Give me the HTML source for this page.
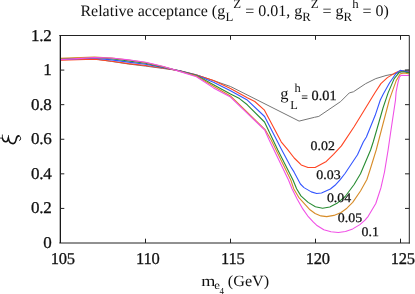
<!DOCTYPE html>
<html><head><meta charset="utf-8"><title>chart</title>
<style>html,body{margin:0;padding:0;background:#fff;overflow:hidden}text{text-rendering:geometricPrecision}.t{filter:grayscale(1)}</style></head>
<body>
<svg width="415" height="294" viewBox="0 0 415 294" style="display:block">
<rect width="415" height="294" fill="#fff"/>
<polyline points="60.0,59.7 94.5,58.9 111.5,61.4 128.5,64.0 145.5,66.1 162.5,68.4 179.5,70.6 196.5,74.8 213.5,80.6 230.5,86.5 299.1,121.1 314.5,117.3 318.8,116.4 340.6,101.6 349.3,92.9 353.4,91.8 365.6,83.7 375.8,78.6 386.0,75.5 396.2,73.5 404.4,70.4 409.3,70.0" fill="none" stroke="#6e6e6e" stroke-width="0.95" stroke-linejoin="round"/>
<polyline points="60.0,60.2 94.5,59.2 111.5,61.2 128.5,63.6 145.5,65.5 162.5,68.0 179.5,70.7 196.5,75.0 213.5,80.5 230.5,88.4 247.3,97.8 254.8,101.5 264.2,109.8 281.2,141.8 287.5,149.4 294.2,158.0 301.2,164.9 308.0,167.5 315.1,167.5 326.3,161.4 333.5,154.3 341.4,145.9 354.1,126.8 363.0,112.3 371.7,98.0 375.4,92.0 380.9,83.6 387.4,77.6 394.0,73.6 398.3,71.4 400.5,70.7 409.3,71.8" fill="none" stroke="#ff4422" stroke-width="1.1" stroke-linejoin="round"/>
<polyline points="60.0,59.3 94.5,58.3 111.5,59.9 128.5,62.1 145.5,64.3 162.5,67.4 179.5,70.8 196.5,75.2 213.5,82.2 230.5,90.8 246.8,99.7 264.6,116.5 281.8,150.0 290.6,166.5 294.0,171.9 300.4,184.0 304.0,187.6 311.3,191.9 316.7,193.5 321.5,193.0 330.4,189.0 335.0,185.3 340.0,179.8 345.0,173.5 357.5,154.8 363.3,142.0 366.4,137.0 375.2,115.3 380.3,100.0 383.3,93.9 389.6,82.7 396.0,73.5 400.3,70.4 409.3,72.4" fill="none" stroke="#3355ff" stroke-width="1.1" stroke-linejoin="round"/>
<polyline points="60.0,58.7 94.5,57.8 111.5,58.8 128.5,60.9 145.5,63.3 162.5,66.9 179.5,71.0 196.5,75.6 213.5,84.8 230.5,94.0 239.5,98.6 247.3,104.8 264.5,122.0 277.8,150.0 293.0,180.0 296.6,188.7 300.9,195.9 308.1,202.4 315.4,206.7 322.6,208.2 329.8,207.0 337.0,203.3 345.2,196.5 354.1,184.5 360.5,173.8 370.6,150.0 373.2,142.0 376.7,130.0 383.0,108.0 388.1,92.9 394.2,78.6 399.3,72.3 403.4,71.8 409.3,72.9" fill="none" stroke="#288c32" stroke-width="1.1" stroke-linejoin="round"/>
<polyline points="60.0,58.3 94.5,57.0 111.5,58.0 128.5,60.0 145.5,62.5 162.5,66.5 179.5,71.2 196.5,76.0 213.5,86.2 230.5,96.0 264.9,129.3 271.2,140.0 290.8,180.0 293.7,188.7 298.7,197.3 305.0,204.4 310.0,209.8 315.1,213.5 320.9,215.9 326.7,216.6 333.9,215.4 341.1,212.5 346.9,208.2 352.7,202.4 360.5,191.0 366.9,179.5 370.0,170.0 376.2,150.0 381.4,130.0 389.3,100.0 391.1,94.9 396.2,80.6 400.3,73.8 404.4,73.0 409.3,74.0" fill="none" stroke="#d78c28" stroke-width="1.1" stroke-linejoin="round"/>
<polyline points="60.0,59.6 94.5,57.6 111.5,58.0 128.5,59.9 145.5,62.2 162.5,66.3 179.5,71.4 196.5,76.7 213.5,87.9 230.5,97.1 264.7,130.0 269.2,140.0 288.5,180.0 292.0,188.7 297.0,198.8 302.8,208.9 308.3,216.7 313.4,222.2 316.6,225.2 323.8,229.8 331.0,231.8 338.3,232.5 345.5,231.5 352.7,228.9 359.9,224.6 365.0,220.2 368.2,216.3 375.8,203.5 380.9,187.9 384.5,172.0 388.1,150.0 391.0,130.0 395.5,100.0 396.1,92.0 397.8,83.4 399.4,77.2 401.0,75.4 409.3,75.5" fill="none" stroke="#f050e6" stroke-width="1.1" stroke-linejoin="round"/>
<path d="M409.3,243.0H59.8M59.8,35.5H409.3V243.0" fill="none" stroke="#222" stroke-width="1" stroke-linecap="square"/>
<path d="M60.35,35.5V243.0" fill="none" stroke="#181818" stroke-width="1.3"/>
<path d="M145.50,243.0v-4.3M145.50,35.5v4.3M230.50,243.0v-4.3M230.50,35.5v4.3M315.50,243.0v-4.3M315.50,35.5v4.3M400.50,243.0v-4.3M400.50,35.5v4.3M60.0,208.42h4.3M409.3,208.42h-4.3M60.0,173.83h4.3M409.3,173.83h-4.3M60.0,139.25h4.3M409.3,139.25h-4.3M60.0,104.67h4.3M409.3,104.67h-4.3M60.0,70.08h4.3M409.3,70.08h-4.3" stroke="#222" stroke-width="1" fill="none"/>
<g class="t" font-family="Liberation Serif, serif" font-size="16.5" fill="#111" stroke="#111" stroke-width="0.3" letter-spacing="-0.25">
<text transform="translate(51.4,248.0) scale(1.03,1)" text-anchor="end">0</text>
<text transform="translate(51.4,213.4) scale(1.03,1)" text-anchor="end">0.2</text>
<text transform="translate(51.4,178.8) scale(1.03,1)" text-anchor="end">0.4</text>
<text transform="translate(51.4,144.2) scale(1.03,1)" text-anchor="end">0.6</text>
<text transform="translate(51.4,109.7) scale(1.03,1)" text-anchor="end">0.8</text>
<text transform="translate(51.4,75.1) scale(1.03,1)" text-anchor="end">1</text>
<text transform="translate(51.4,40.5) scale(1.03,1)" text-anchor="end">1.2</text>
<text transform="translate(62.8,263.5) scale(1.0,1)" text-anchor="middle">105</text>
<text transform="translate(147.8,263.5) scale(1.0,1)" text-anchor="middle">110</text>
<text transform="translate(232.8,263.5) scale(1.0,1)" text-anchor="middle">115</text>
<text transform="translate(317.8,263.5) scale(1.0,1)" text-anchor="middle">120</text>
<text transform="translate(402.8,263.5) scale(1.0,1)" text-anchor="middle">125</text>
</g>
<g class="t" font-family="Liberation Serif, serif" font-size="13.1" fill="#111" stroke="#111" stroke-width="0.25">
<text transform="translate(310.6,149.5) scale(1.06,1)">0.02</text>
<text transform="translate(316.3,179.0) scale(1.06,1)">0.03</text>
<text transform="translate(326.9,201.7) scale(1.06,1)">0.04</text>
<text transform="translate(337.8,221.8) scale(1.06,1)">0.05</text>
<text transform="translate(361.6,235.7) scale(1.06,1)">0.1</text>
</g>
<g class="t" font-family="Liberation Serif, serif" fill="#111"><text x="280.3" y="99" font-size="16.5">g</text><text x="290.3" y="108.8" font-size="12.4">L</text><text x="294.6" y="92" font-size="12.4">h</text><text x="301.3" y="100.8" font-size="12" font-weight="bold">=</text><text transform="translate(311.6,100) scale(1.02,1)" font-size="14" stroke="#111" stroke-width="0.25">0.01</text></g>
<g class="t" font-family="Liberation Serif, serif" fill="#111" font-size="16"><text x="80.4" y="16.4">Relative acceptance (g</text><text x="225.5" y="21.3" font-size="12.8">L</text><text x="233.2" y="8.2" font-size="12.8">Z</text><text x="245.2" y="16.4">= 0.01, g</text><text x="302.2" y="21.3" font-size="12.8">R</text><text x="310.8" y="8.2" font-size="12.8">Z</text><text x="322.5" y="16.4">= g</text><text x="343.6" y="21.3" font-size="12.8">R</text><text x="352.3" y="8.2" font-size="12.8">h</text><text x="362.5" y="16.4">= 0)</text></g>
<g class="t" font-family="Liberation Serif, serif" fill="#111"><text transform="translate(201.2,285.6) scale(1.17,1)" font-size="15.5">m</text><text transform="translate(214.2,288.7) scale(1.12,1)" font-size="11.5">e</text><text x="219.5" y="294" font-size="9">4</text><text transform="translate(227.8,285.6) scale(1.045,1)" font-size="15.5">(GeV)</text></g>
<g fill="none" stroke="#111" stroke-linecap="round" stroke-linejoin="round"><path d="M0,138.1H2.3M2.4,134.9V138.4" stroke-width="0.8"/><path d="M2.5,138.3C3,140.6 4.2,141.7 5.6,141.7C7.4,141.7 8.2,140.6 8.4,137.6" stroke-width="1.5"/><path d="M8.45,138L8.5,135.6" stroke-width="0.9"/><path d="M8.5,138.6C8.9,141.2 10.5,143.6 13.1,143.6C15.2,143.6 15.8,141.5 16.2,139.2C16.6,137 17.2,135.9 18.7,135.9" stroke-width="1.6"/><path d="M18.7,135.9C20,135.9 20.7,137 20.6,138.8C20.5,139.8 20.1,140.3 19.6,140.4" stroke-width="1"/></g>
</svg>
</body></html>
